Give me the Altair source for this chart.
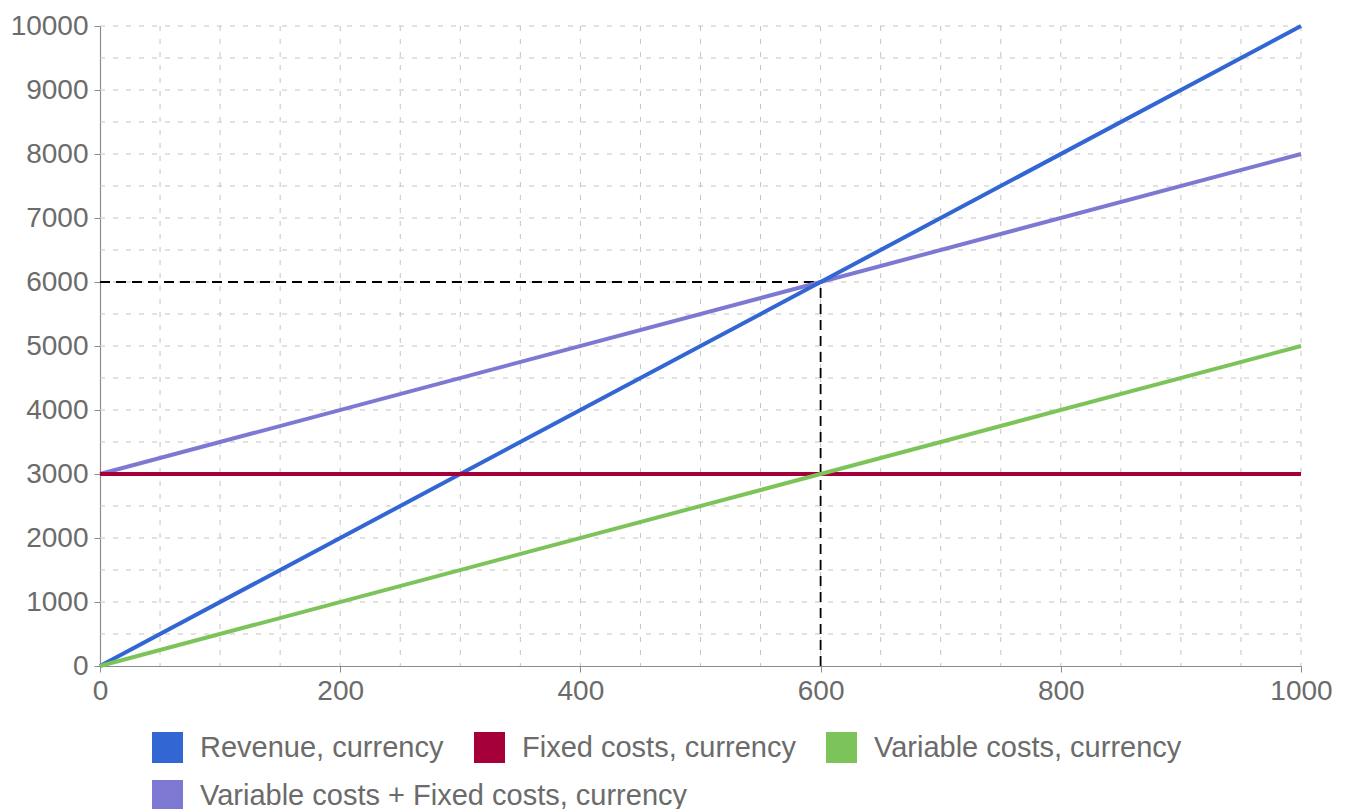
import altair as alt
import pandas as pd

# ---- data ----
units = [0, 1000]
revenue = [0, 10000]
fixed_costs = [3000, 3000]
variable_costs = [0, 5000]
total_costs = [3000, 8000]

names = ["Revenue, currency", "Fixed costs, currency", "Variable costs, currency"]
total_name = "Variable costs + Fixed costs, currency"
colors = ["#3166d3", "#a6003a", "#7cc35a"]
total_color = "#7d79d2"

x_ticks = [0, 200, 400, 600, 800, 1000]
y_ticks = [0, 1000, 2000, 3000, 4000, 5000, 6000, 7000, 8000, 9000, 10000]
x_grid = list(range(50, 1001, 50))
y_grid = list(range(500, 10001, 500))
break_even_units = 600
break_even_value = 6000

FONT = "Liberation Sans"
TXT = "#6b6b6b"

rows = []
for name, vals in zip(names, [revenue, fixed_costs, variable_costs]):
    for u, v in zip(units, vals):
        rows.append({"series": name, "x": u, "y": v})
main_df = pd.DataFrame(rows)
total_df = pd.DataFrame({"series": total_name, "x": units, "y": total_costs})

xs = alt.Scale(domain=[0, 1000], nice=False, zero=False)
ys = alt.Scale(domain=[0, 10000], nice=False, zero=False)
common_axis = dict(title=None, grid=False, format="d", labelFont=FONT, labelFontSize=28, labelColor=TXT,
                   domainColor="#8c8c8c", domainWidth=1.2, tickColor="#8c8c8c", tickSize=6,
                   labelFlush=False, labelOverlap=False)
xaxis = alt.Axis(values=x_ticks, labelPadding=5, **common_axis)
yaxis = alt.Axis(values=y_ticks, labelPadding=6, **common_axis)


def X(f="x"):
    return alt.X(f + ":Q", scale=xs, axis=xaxis)


def Y(f="y"):
    return alt.Y(f + ":Q", scale=ys, axis=yaxis)


grid_style = dict(color="#c4c4c4", strokeWidth=1, strokeDash=[5, 8])
vgrid = alt.Chart(pd.DataFrame({"x": x_grid})).mark_rule(**grid_style).encode(x=X())
hgrid = alt.Chart(pd.DataFrame({"y": y_grid})).mark_rule(**grid_style).encode(y=Y())

dash_style = dict(color="#000000", strokeWidth=1.8, strokeDash=[10, 6])
hdash = alt.Chart(pd.DataFrame({"x": [0], "x2": [break_even_units], "y": [break_even_value]})).mark_rule(
    **dash_style).encode(x=X(), x2="x2:Q", y=Y())
vdash = alt.Chart(pd.DataFrame({"x": [break_even_units], "y": [0], "y2": [break_even_value]})).mark_rule(
    **dash_style).encode(x=X(), y=Y(), y2="y2:Q")


def legend(x, y):
    return alt.Legend(title=None, orient="none", legendX=x, legendY=y, direction="horizontal",
                      symbolType="square", symbolSize=961, symbolStrokeWidth=0,
                      labelFont=FONT, labelFontSize=29, labelColor=TXT, labelOffset=17,
                      columnPadding=30, labelLimit=800)


stroke_scale = alt.Scale(domain=names + [total_name], range=colors + [total_color])

main_scale = alt.Scale(domain=names, range=colors)
main_lines = alt.Chart(main_df).mark_line(strokeWidth=4).encode(
    x=X(), y=Y(), stroke=alt.Stroke("series:N", scale=stroke_scale, legend=None))
main_keys = alt.Chart(main_df).mark_point(shape="square", filled=True, size=0, opacity=1).encode(
    x=X(), y=Y(), color=alt.Color("series:N", scale=main_scale, sort=names, legend=legend(52, 706)))
main_group = alt.layer(main_lines, main_keys)

total_scale = alt.Scale(domain=[total_name], range=[total_color])
total_line = alt.Chart(total_df).mark_line(strokeWidth=4).encode(
    x=X(), y=Y(), stroke=alt.Stroke("series:N", scale=stroke_scale, legend=None))
total_key = alt.Chart(total_df).mark_point(shape="square", filled=True, size=0, opacity=1).encode(
    x=X(), y=Y(), color=alt.Color("series:N", scale=total_scale, legend=legend(52, 754)))
total_group = alt.layer(total_line, total_key)

chart = alt.layer(vgrid, hgrid, hdash, vdash, total_group, main_group).resolve_scale(
    color="independent"
).properties(
    width=1201, height=640,
    autosize=alt.AutoSizeParams(type="none"),
    padding={"left": 100, "top": 26, "right": 47, "bottom": 143},
    background="white",
).configure_view(stroke=None)

chart.save("out.html", embed_options={"renderer": "svg", "actions": False})
